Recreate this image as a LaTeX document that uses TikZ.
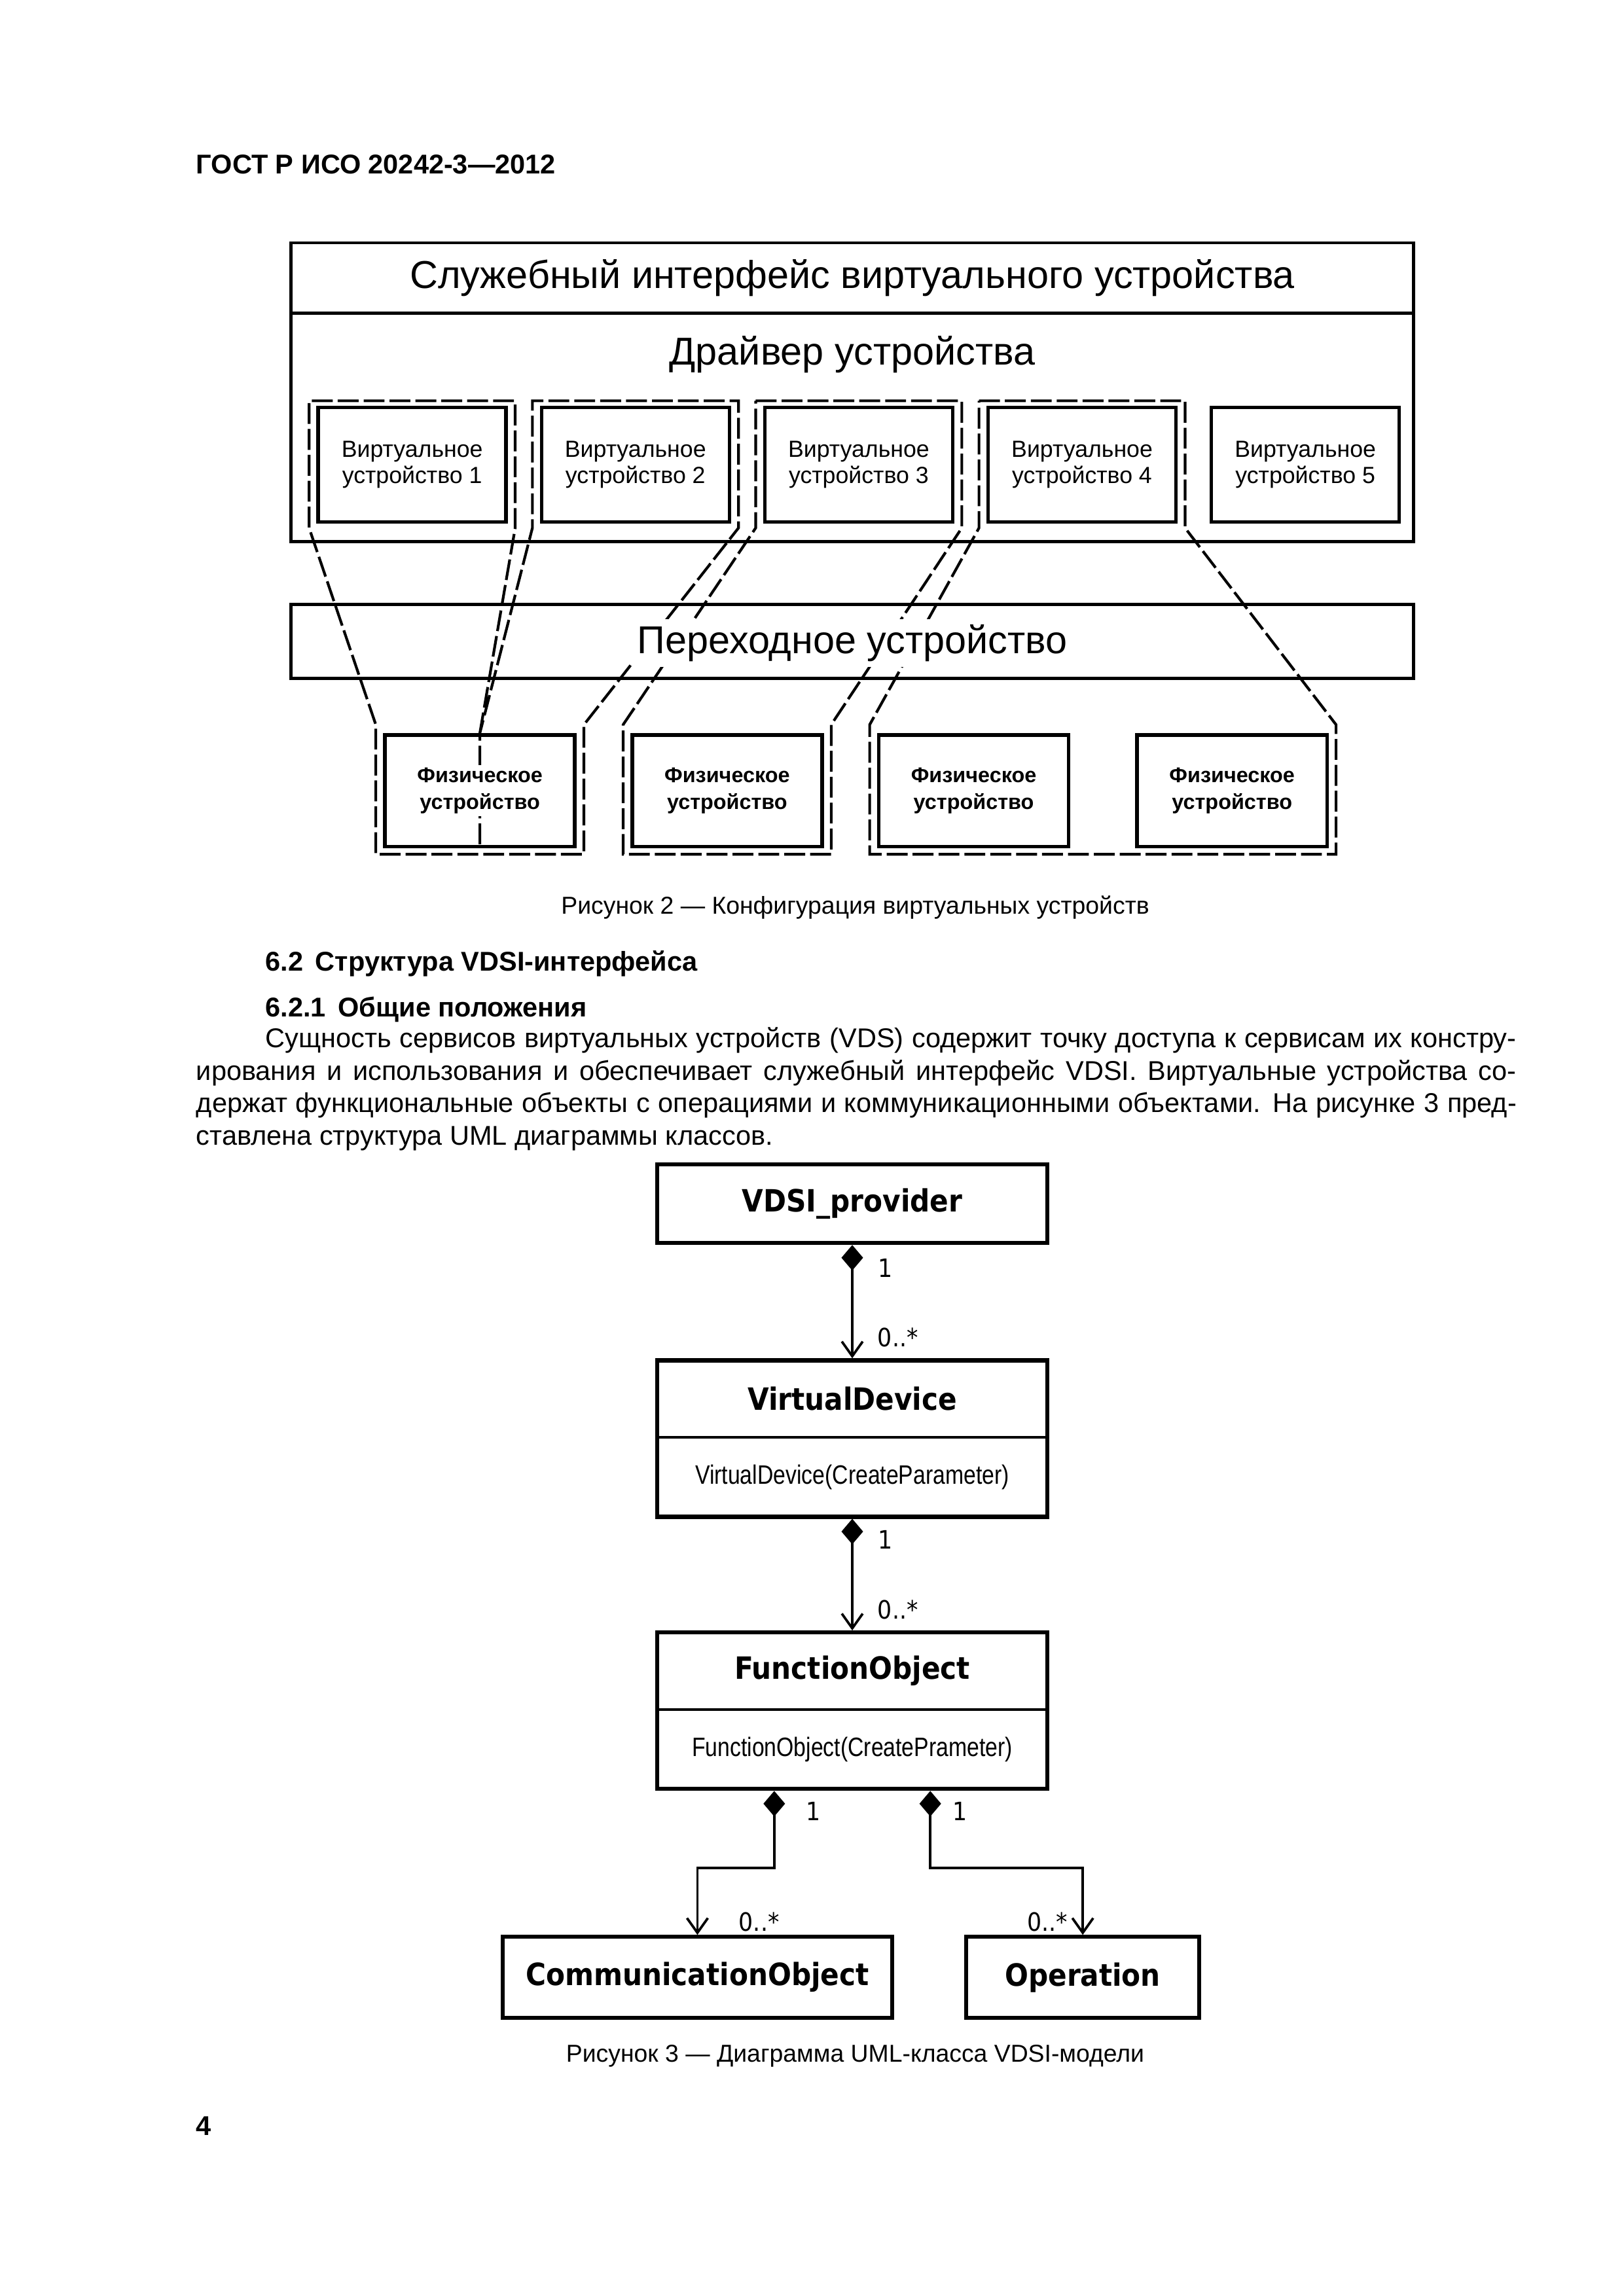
\documentclass[tikz,border=0pt]{standalone}
\usepackage{fontspec}
\setmainfont{Liberation Sans}
\newfontfamily\narrowfont{Liberation Sans}[FakeStretch=0.83]
\newfontfamily\classfont{DejaVu Sans}[FakeStretch=0.9]
\usetikzlibrary{arrows.meta,calc,positioning}

\begin{document}
\begin{tikzpicture}[x=0.019039cm,y=-0.019039cm]

    \tikzset{
      headtext/.style={inner sep=0pt, anchor=mid west, font=\fontsize{10}{12}\selectfont\bfseries},
      bodytext/.style={inner sep=0pt, anchor=mid west, font=\fontsize{10}{11.7}\selectfont},
      captext/.style={inner sep=0pt, anchor=mid, font=\fontsize{9}{11}\selectfont},
      bigtext/.style={inner sep=0pt, anchor=mid, font=\fontsize{14.3}{17}\selectfont},
      outerbox/.style={draw, line width=1.1pt, minimum width=14.526cm, inner sep=0pt},
      vdbox/.style={draw, line width=1.3pt, minimum width=2.43cm, minimum height=1.481cm,
        inner sep=0pt, align=center, font=\fontsize{8.6}{9.7}\selectfont},
      pdbox/.style={draw, line width=1.3pt, minimum width=2.456cm, minimum height=1.447cm, inner sep=0pt},
      pdtext/.style={fill=white, inner sep=1pt, align=center, font=\fontsize{7.8}{9.7}\selectfont\bfseries},
      mapline/.style={line width=1pt, dash pattern=on 2.7mm off 0.65mm},
      classbox/.style={draw, line width=1.5pt, minimum width=5.043cm, inner sep=0pt},
      classname/.style={inner sep=0pt, font=\classfont\bfseries\fontsize{11.3}{13}\selectfont},
      classop/.style={inner sep=0pt, font=\narrowfont\fontsize{9.8}{12}\selectfont},
      mult/.style={inner sep=0pt, font=\classfont\fontsize{9.3}{11}\selectfont},
      compose/.style={line width=0.9pt,
        {Diamond[length=3.3mm,width=2.8mm]}-{Straight Barb[length=1.9mm,width=2.7mm]}},
    }
    \fill[white] (0,0) rectangle (1103,1560);
    \useasboundingbox (0,0) rectangle (1103,1560);

    \node[headtext] (gost) at (133,113) {ГОСТ Р ИСО 20242-3—2012};

    % figure 2: virtual device configuration
    \node[outerbox, minimum height=3.865cm] (srv) at (579,266.5) {};
    \coordinate (srvsplit) at (0,212.7);
    \draw[line width=1.1pt] (srv.west |- srvsplit) -- (srv.east |- srvsplit);
    \node[bigtext] (srvname) at (579,191) {Служебный интерфейс виртуального устройства};
    \node[bigtext] (drv) at (579,243) {Драйвер устройства};
    \foreach \i/\x in {1/280,2/431.7,3/583.4,4/735.1,5/886.8}
      \node[vdbox] (vd\i) at (\x,315.8) {Виртуальное\\устройство \i};
    \node[outerbox, minimum height=0.96cm] (gate) at (579,435.8) {};
    \foreach \i/\x in {1/326,2/494,3/661.5,4/837}
      \node[pdbox] (pd\i) at (\x,537.3) {};

    \coordinate (vtop) at (0,272.3);
    \coordinate (vbot) at (0,358.7);
    \coordinate (ptop) at (0,492.4);
    \coordinate (pbot) at (0,580.4);
    % vd1 and vd2 share pd1
    \draw[mapline] (pd1.north) -- ($(vd1.east |- vbot)+(5,0)$) -- ($(vd1.east |- vtop)+(5,0)$)
      -- ($(vd1.west |- vtop)+(-5,0)$) -- ($(vd1.west |- vbot)+(-5,0)$)
      -- ($(pd1.west |- ptop)+(-5,0)$) -- ($(pd1.west |- pbot)+(-5,0)$)
      -- ($(pd1.east |- pbot)+(5,0)$) -- ($(pd1.east |- ptop)+(5,0)$)
      -- ($(vd2.east |- vbot)+(5,0)$) -- ($(vd2.east |- vtop)+(5,0)$)
      -- ($(vd2.west |- vtop)+(-5,0)$) -- ($(vd2.west |- vbot)+(-5,0)$)
      -- (pd1.north) -- (pd1.south);
    % vd3 on pd2
    \draw[mapline] ($(vd3.west |- vtop)+(-5,0)$) -- ($(vd3.east |- vtop)+(5,0)$)
      -- ($(vd3.east |- vbot)+(5,0)$) -- ($(pd2.east |- ptop)+(5,0)$)
      -- ($(pd2.east |- pbot)+(5,0)$) -- ($(pd2.west |- pbot)+(-5,0)$)
      -- ($(pd2.west |- ptop)+(-5,0)$) -- ($(vd3.west |- vbot)+(-5,0)$) -- cycle;
    % vd4 on pd3 and pd4
    \draw[mapline] ($(vd4.west |- vtop)+(-5,0)$) -- ($(vd4.east |- vtop)+(5,0)$)
      -- ($(vd4.east |- vbot)+(5,0)$) -- ($(pd4.east |- ptop)+(5,0)$)
      -- ($(pd4.east |- pbot)+(5,0)$) -- ($(pd3.west |- pbot)+(-5,0)$)
      -- ($(pd3.west |- ptop)+(-5,0)$) -- ($(vd4.west |- vbot)+(-5,0)$) -- cycle;

    \node[bigtext, fill=white, inner sep=2pt] (gatename) at (579,439) {Переходное устройство};
    \foreach \i in {1,...,4}
      \node[pdtext] (pdname\i) at (pd\i) {Физическое\\устройство};

    \node[captext] (fig2) at (581,616) {Рисунок 2 — Конфигурация виртуальных устройств};

    % section text
    \node[headtext] (sec) at (180,655) {6.2\hspace{0.45em}Структура VDSI-интерфейса};
    \node[headtext] (subsec) at (180,686) {6.2.1\hspace{0.45em}Общие положения};
    \node[bodytext] (par1) at (180,707) {\makebox[16.183cm][s]{Сущность сервисов виртуальных устройств (VDS) содержит точку доступа к сервисам их констру-}};
    \node[bodytext] (par2) at (133,729) {\makebox[17.078cm][s]{ирования и использования и обеспечивает служебный интерфейс VDSI. Виртуальные устройства со-}};
    \node[bodytext] (par3) at (133,751) {\makebox[17.078cm][s]{держат функциональные объекты с операциями и коммуникационными объектами. На рисунке 3 пред-}};
    \node[bodytext] (par4) at (133,773) {ставлена структура UML диаграммы классов.};

    % figure 3: UML classes
    \node[classbox, minimum height=1.019cm, classname] (prov) at (579,817.75) {VDSI\_provider};

    \node[classbox, minimum height=2.024cm] (vd) at (579,977.4) {};
    \coordinate (vdsplit) at (0,976.5);
    \draw[line width=0.9pt] (vd.west |- vdsplit) -- (vd.east |- vdsplit);
    \node[classname] (vdname) at (579,950.4) {VirtualDevice};
    \node[classop] (vdop) at (579,1003.5) {VirtualDevice(CreateParameter)};

    \node[classbox, minimum height=2.024cm] (fo) at (579,1162.3) {};
    \coordinate (fosplit) at (0,1161.5);
    \draw[line width=0.9pt] (fo.west |- fosplit) -- (fo.east |- fosplit);
    \node[classname] (foname) at (579,1135.3) {FunctionObject};
    \node[classop] (foop) at (579,1188.5) {FunctionObject(CreatePrameter)};

    \node[classbox, minimum height=1.047cm, classname] (co) at (473.8,1343.5) {CommunicationObject};
    \node[classbox, minimum height=1.047cm, minimum width=3.014cm, classname] (op) at (735.6,1343.5) {Operation};

    \draw[compose] (prov.south) -- (vd.north);
    \draw[compose] (vd.south) -- (fo.north);
    \coordinate (elbow) at (0,1269);
    \draw[compose] ($(fo.south)+(-53,0)$) |- (elbow -| co.north) -- (co.north);
    \draw[compose] ($(fo.south)+(53,0)$) |- (elbow -| op.north) -- (op.north);

    \node[mult] (m1) at (601.5,861.5) {1};
    \node[mult] (m2) at (610,908.6) {0..*};
    \node[mult] (m3) at (601.5,1046) {1};
    \node[mult] (m4) at (610,1093.5) {0..*};
    \node[mult] (m5) at (552.4,1230.6) {1};
    \node[mult] (m6) at (652.3,1230.6) {1};
    \node[mult] (m7) at (515.7,1306) {0..*};
    \node[mult] (m8) at (711.6,1306) {0..*};

    \node[captext] (fig3) at (581,1396) {Рисунок 3 — Диаграмма UML-класса VDSI-модели};
    \node[headtext] (page) at (133,1446) {4};

\end{tikzpicture}
\end{document}
